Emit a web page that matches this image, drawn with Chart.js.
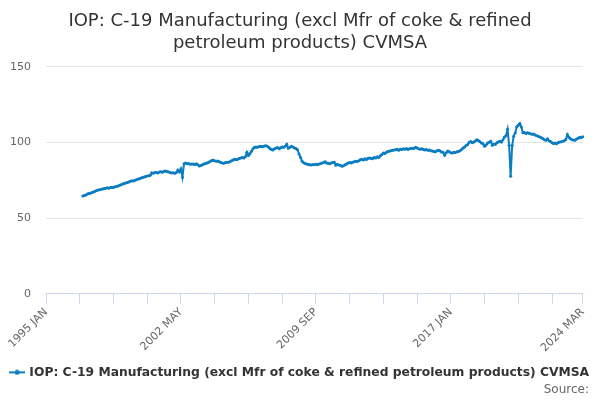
<!DOCTYPE html>
<html>
<head>
<meta charset="utf-8">
<title>IOP: C-19 Manufacturing CVMSA</title>
<script src="https://cdn.jsdelivr.net/npm/chart.js@4.4.1/dist/chart.umd.min.js"></script>
<style>
  html, body { margin: 0; padding: 0; background: #fff; }
  #wrap { width: 600px; height: 400px; }
</style>
</head>
<body>
<div id="wrap"><canvas id="chart"></canvas></div>
<script>
// ========== DATA ==========
const MONTHS = ['JAN', 'FEB', 'MAR', 'APR', 'MAY', 'JUN', 'JUL', 'AUG', 'SEP', 'OCT', 'NOV', 'DEC'];

// axis runs 1995 JAN .. 2024 MAR, series starts 1997 JAN
const categories = [];
for (let y = 1995; y <= 2024; y++) {
  MONTHS.forEach((m, k) => {
    if (y < 2024 || k <= 2) categories.push(`${y} ${m}`);
  });
}

const tickLabels = ['1995 JAN', '2002 MAY', '2009 SEP', '2017 JAN', '2024 MAR'];
const tickMarkStep = 22; // small tick every 22 months, plus the last month

const seriesName = 'IOP: C-19 Manufacturing (excl Mfr of coke & refined petroleum products) CVMSA';
const titleLines = ['IOP: C-19 Manufacturing (excl Mfr of coke & refined', 'petroleum products) CVMSA'];
const sourceText = 'Source:';

const leadGap = [null, null, null, null, null, null, null, null, null, null, null, null,
                 null, null, null, null, null, null, null, null, null, null, null, null];

const iopValues = [
  64.6, 64.9, 65.3, 66.0, 66.2, 66.5, 67.0, 67.3, 67.8, 68.2, 68.5, 68.8,   // 1997
  69.0, 69.3, 69.6, 69.8, 70.0, 69.8, 70.2, 70.4, 70.3, 70.7, 70.9, 71.3,   // 1998
  71.7, 72.1, 72.6, 72.9, 73.2, 73.6, 73.9, 74.4, 74.7, 74.6, 75.0, 75.4,   // 1999
  75.8, 76.1, 76.5, 76.9, 77.1, 77.5, 77.8, 78.0, 78.3, 80.0, 79.6, 80.1,   // 2000
  80.2, 79.9, 80.5, 80.6, 80.3, 80.9, 81.2, 80.8, 80.5, 80.1, 79.9, 80.0,   // 2001
  79.6, 80.2, 81.8, 80.5, 82.6, 77.0, 85.9, 86.4, 85.9, 86.1, 85.6, 85.8,   // 2002
  85.7, 85.4, 85.9, 85.2, 84.4, 84.8, 85.3, 85.8, 86.1, 86.4, 86.9, 87.4,   // 2003
  88.1, 88.3, 87.9, 87.6, 87.8, 87.2, 86.8, 86.5, 86.3, 86.7, 86.9, 87.0,   // 2004
  87.2, 87.9, 88.4, 89.0, 88.6, 88.9, 89.4, 89.8, 90.1, 89.7, 90.5, 93.6,   // 2005
  91.4, 92.6, 94.2, 95.8, 96.8, 97.0, 96.9, 97.3, 97.5, 97.2, 97.6, 97.8,   // 2006
  97.7, 97.0, 96.1, 95.4, 95.0, 95.8, 96.4, 96.7, 95.9, 96.5, 97.1, 96.8,   // 2007
  97.6, 98.9, 96.2, 96.9, 97.5, 97.1, 96.4, 96.0, 95.2, 92.4, 90.1, 87.6,   // 2008
  86.6, 86.1, 85.7, 85.5, 85.3, 85.1, 85.4, 85.2, 85.6, 85.3, 85.8, 86.0,   // 2009
  86.4, 86.7, 87.3, 86.5, 86.2, 86.0, 86.4, 86.7, 86.9, 84.9, 85.6, 85.1,   // 2010
  85.0, 84.3, 84.7, 85.2, 85.8, 86.4, 86.7, 86.5, 87.0, 87.3, 87.6, 87.4,   // 2011
  88.0, 88.6, 88.9, 88.4, 89.2, 88.7, 89.5, 89.8, 89.6, 89.3, 90.1, 89.8,   // 2012
  90.5, 90.1, 91.2, 92.0, 93.1, 92.8, 93.6, 94.1, 94.3, 94.6, 94.8, 95.0,   // 2013
  95.2, 95.5, 94.9, 95.6, 95.3, 95.8, 95.6, 96.0, 95.4, 95.8, 96.1, 96.2,   // 2014
  96.0, 96.9, 96.4, 95.8, 95.6, 95.9, 95.3, 95.1, 95.4, 94.8, 95.0, 94.6,   // 2015
  94.3, 94.1, 93.8, 94.6, 94.9, 94.4, 93.7, 93.4, 91.6, 93.2, 94.4, 93.8,   // 2016
  93.3, 93.0, 93.5, 93.4, 93.9, 94.1, 94.6, 95.4, 96.3, 97.1, 98.0, 98.6,   // 2017
  100.1, 100.6, 99.8, 100.4, 101.0, 101.9, 101.3, 100.5, 99.6, 99.1, 97.6, 98.3, // 2018
  99.6, 100.2, 100.9, 98.2, 99.0, 98.7, 99.8, 100.4, 100.9, 100.3, 101.8, 103.7, // 2019
  104.5, 108.7, 98.2, 77.7, 98.0, 104.2, 106.3, 110.5, 111.4, 112.6, 110.2, 106.4, // 2020
  106.6, 106.0, 106.5, 106.2, 105.8, 105.4, 105.6, 104.9, 104.5, 104.2, 103.7, 103.2, // 2021
  102.6, 101.9, 101.5, 102.4, 101.2, 100.6, 99.9, 99.3, 99.6, 99.1, 100.0, 100.3, // 2022
  100.5, 100.8, 101.2, 102.0, 105.3, 103.4, 102.5, 101.9, 101.6, 101.5, 102.3, 102.8, // 2023
  103.5, 103.2, 103.8                                                        // 2024
];

const yTicks = [0, 50, 100, 150];

// ========== STYLE ==========
const LINE = '#0b7dc1';
const AXIS = '#ccd6eb';
const GRID = '#e6e6e6';
const FONT = "'DejaVu Sans', sans-serif";

// legend symbol: short line with a dot
function legendSymbol() {
  const c = document.createElement('canvas');
  c.width = 16; c.height = 6;
  const g = c.getContext('2d');
  g.strokeStyle = LINE;
  g.lineWidth = 2;
  g.beginPath(); g.moveTo(0, 3); g.lineTo(16, 3); g.stroke();
  g.fillStyle = LINE;
  g.beginPath(); g.arc(8, 3, 2.5, 0, Math.PI * 2); g.fill();
  return c;
}

// "Source:" line under the legend, right aligned
const sourceNote = {
  id: 'sourceNote',
  afterDraw(chart) {
    const { ctx, width, height } = chart;
    ctx.save();
    ctx.font = `12px ${FONT}`;
    ctx.fillStyle = '#666';
    ctx.textAlign = 'right';
    ctx.textBaseline = 'middle';
    ctx.fillText(sourceText, width - 11, height - 10);
    ctx.restore();
  }
};

const lastIdx = categories.length - 1;
const isMarked = i => i % tickMarkStep === 0 || i === lastIdx;

new Chart(document.getElementById('chart'), {
  type: 'line',
  data: {
    labels: categories,
    datasets: [{
      label: seriesName,
      data: leadGap.concat(iopValues),
      borderColor: LINE,
      backgroundColor: LINE,
      borderWidth: 2,
      pointRadius: 1.5,
      pointBorderWidth: 0,
      pointBackgroundColor: LINE,
      tension: 0,
      spanGaps: false
    }]
  },
  options: {
    responsive: true,
    maintainAspectRatio: false,
    animation: false,
    layout: { padding: { left: 0, right: 0, top: 0, bottom: 11.5 } },
    scales: {
      x: {
        offset: false,
        border: { display: true, color: AXIS, width: 1 },
        grid: {
          drawOnChartArea: false,
          drawTicks: true,
          tickLength: 10,
          color: ctx => isMarked(ctx.index) ? AXIS : 'rgba(0,0,0,0)'
        },
        ticks: {
          autoSkip: false,
          maxRotation: 45,
          minRotation: 45,
          padding: 2,
          color: '#666',
          font: { family: FONT, size: 11 },
          callback(value) {
            const lab = this.getLabelForValue(value);
            return tickLabels.includes(lab) ? lab : '';
          }
        }
      },
      y: {
        min: 0,
        max: 150,
        afterBuildTicks: axis => { axis.ticks = yTicks.map(v => ({ value: v })); },
        afterFit: axis => { axis.width = 46; },
        border: { display: false },
        grid: { color: GRID, drawTicks: false },
        ticks: {
          padding: 15,
          color: '#666',
          font: { family: FONT, size: 11 }
        }
      },
      // empty strip on the right so the plot ends where the reference does
      yRight: {
        position: 'right',
        display: true,
        afterFit: axis => { axis.width = 17.3; },
        grid: { display: false },
        border: { display: false },
        ticks: { display: false }
      }
    },
    plugins: {
      title: {
        display: true,
        text: titleLines,
        color: '#333',
        font: { family: FONT, size: 18, weight: 'normal', lineHeight: 1.22 },
        padding: { top: 10, bottom: 13 }
      },
      legend: {
        position: 'bottom',
        labels: {
          usePointStyle: true,
          pointStyle: legendSymbol(),
          boxWidth: 16,
          color: '#333',
          font: { family: FONT, size: 12.3, weight: 'bold' },
          padding: 9.5
        }
      },
      tooltip: { enabled: false }
    }
  },
  plugins: [sourceNote]
});
</script>
</body>
</html>
